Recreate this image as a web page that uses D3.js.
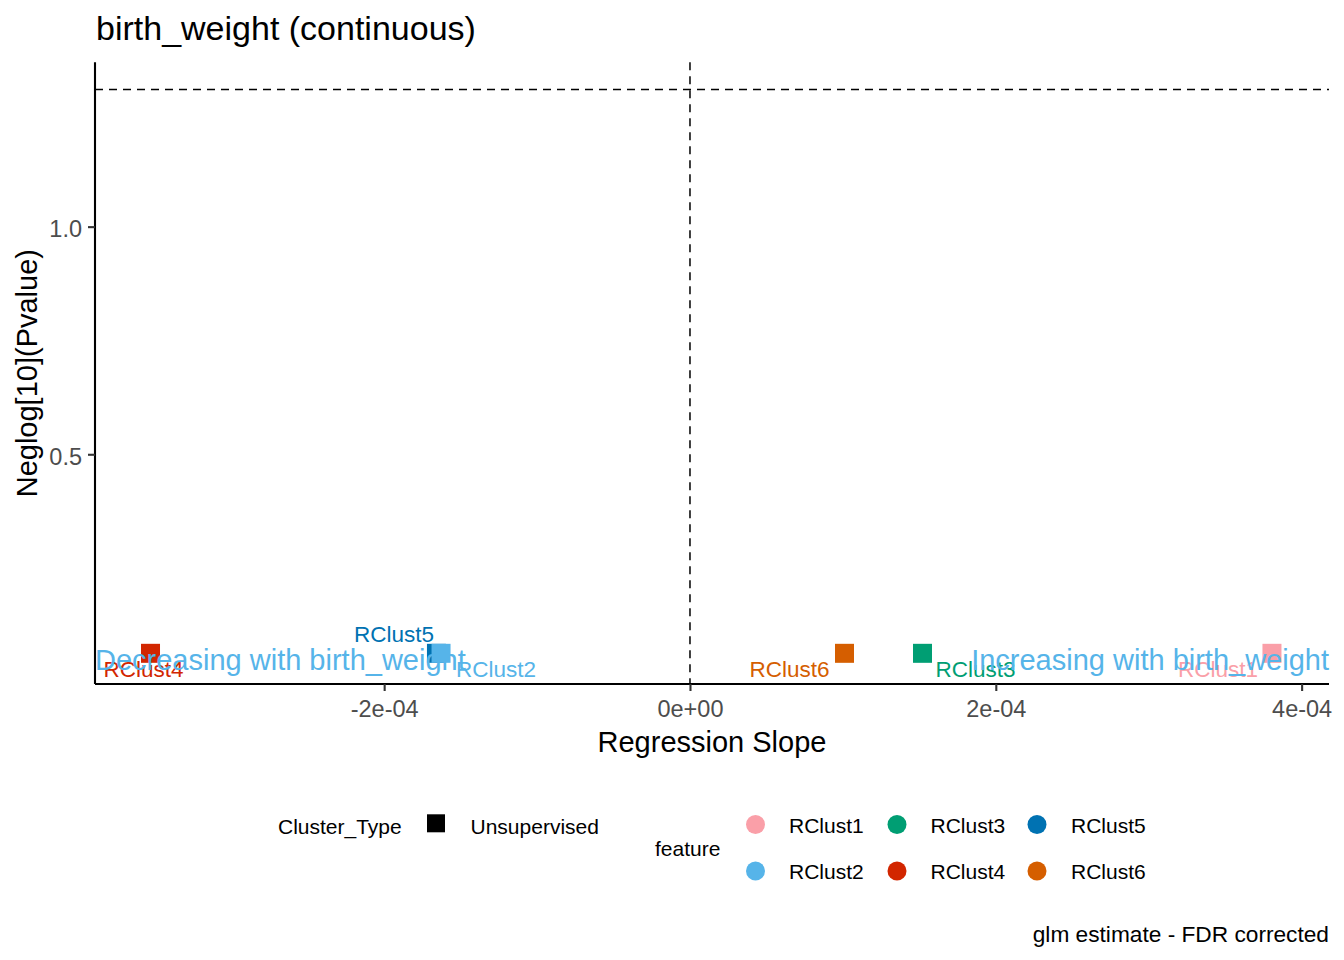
<!DOCTYPE html>
<html>
<head>
<meta charset="utf-8">
<script src="https://cdn.jsdelivr.net/npm/d3@7"></script>
<style>
  html, body { margin: 0; padding: 0; background: #fff; }
  svg text { font-family: "Liberation Sans", Arial, sans-serif; }
</style>
</head>
<body>
<svg id="chart" width="1344" height="960"></svg>
<script>
// ---- data ----
const features   = ["RClust5", "RClust4", "RClust6", "RClust3", "RClust1", "RClust2"];
const slopes     = [-1.658e-4, -3.528e-4, 1.0105e-4, 1.5206e-4, 3.806e-4, -1.628e-4];
const neglogP    = [0.0628, 0.0628, 0.0628, 0.0628, 0.0628, 0.0628];
const clusterType = ["Unsupervised", "Unsupervised", "Unsupervised", "Unsupervised", "Unsupervised", "Unsupervised"];
const xTicks     = [-2e-4, 0, 2e-4, 4e-4];
const xTickLabels = ["-2e-04", "0e+00", "2e-04", "4e-04"];
const yTicks     = [0.5, 1.0];
const yTickLabels = ["0.5", "1.0"];
const sigLine    = 1.301;   // -log10(0.05)
const annotY     = 0.049;
const legendFeatures = ["RClust1", "RClust2", "RClust3", "RClust4", "RClust5", "RClust6"];

// ---- styles ----
const colors = {
  RClust1: "#FA9FA8", RClust2: "#56B4E9", RClust3: "#009E73",
  RClust4: "#D22600", RClust5: "#0072B2", RClust6: "#D55E00"
};
// label offsets (px) mimicking ggrepel placement
const labelOffset = {
  RClust1: [-54, 15.5], RClust2: [55, 15.5], RClust3: [53, 15.5],
  RClust4: [-7, 15.5], RClust5: [-42.5, -19.2], RClust6: [-55, 15.5]
};

const svg = d3.select("#chart");
const panel = { left: 95, right: 1329, top: 62.3, bottom: 684 };

const x = d3.scaleLinear().domain([-3.891e-4, 4.179e-4]).range([panel.left, panel.right]);
const y = d3.scaleLinear().domain([-0.0046, 1.361]).range([panel.bottom, panel.top]);

const data = features.map((f, i) => ({ f, x: slopes[i], y: neglogP[i], t: clusterType[i] }));

// reference lines
svg.append("line")
  .attr("x1", panel.left).attr("x2", panel.right)
  .attr("y1", y(sigLine)).attr("y2", y(sigLine))
  .attr("stroke", "#000").attr("stroke-width", 1.5).attr("stroke-dasharray", "8,6");
svg.append("line")
  .attr("x1", x(0)).attr("x2", x(0))
  .attr("y1", panel.top).attr("y2", panel.bottom)
  .attr("stroke", "#000").attr("stroke-width", 1.5).attr("stroke-dasharray", "8,6");

// points (squares)
const sq = 19;
svg.append("g").selectAll("rect").data(data).join("rect")
  .attr("x", d => x(d.x) - sq / 2)
  .attr("y", d => y(d.y) - sq / 2)
  .attr("width", sq).attr("height", sq)
  .attr("fill", d => colors[d.f]);

// repel labels
svg.append("g").selectAll("text").data(data).join("text")
  .attr("x", d => x(d.x) + labelOffset[d.f][0])
  .attr("y", d => y(d.y) + labelOffset[d.f][1])
  .attr("dy", "0.35em")
  .attr("text-anchor", "middle")
  .attr("font-size", 22.5)
  .attr("fill", d => colors[d.f])
  .text(d => d.f);

// annotations
svg.append("text")
  .attr("x", panel.left).attr("y", y(annotY)).attr("dy", "0.35em")
  .attr("text-anchor", "start").attr("font-size", 29)
  .attr("fill", "#56B4E9")
  .text("Decreasing with birth_weight");
svg.append("text")
  .attr("x", panel.right).attr("y", y(annotY)).attr("dy", "0.35em")
  .attr("text-anchor", "end").attr("font-size", 29)
  .attr("fill", "#56B4E9")
  .text("Increasing with birth_weight");

// axes
const xAxis = d3.axisBottom(x).tickValues(xTicks).tickFormat((d, i) => xTickLabels[i]).tickSize(7).tickPadding(9);
const gx = svg.append("g").attr("transform", `translate(0,${panel.bottom})`).call(xAxis);
gx.select(".domain").attr("d", `M${panel.left},0H${panel.right}`).attr("stroke", "#000").attr("stroke-width", 2.1);
gx.selectAll(".tick line").attr("stroke", "#333").attr("stroke-width", 2.1);
gx.selectAll(".tick text").attr("font-size", 23.5).attr("fill", "#4D4D4D")
  .attr("font-family", "Liberation Sans, Arial, sans-serif");

const yAxis = d3.axisLeft(y).tickValues(yTicks).tickFormat((d, i) => yTickLabels[i]).tickSize(7).tickPadding(6);
const gy = svg.append("g").attr("transform", `translate(${panel.left},0)`).call(yAxis);
gy.select(".domain").attr("d", `M0,${panel.top}V${panel.bottom}`).attr("stroke", "#000").attr("stroke-width", 2.1);
gy.selectAll(".tick line").attr("stroke", "#333").attr("stroke-width", 2.1);
gy.selectAll(".tick text").attr("font-size", 23.5).attr("fill", "#4D4D4D")
  .attr("font-family", "Liberation Sans, Arial, sans-serif").attr("dy", "0.42em");

// titles
svg.append("text").attr("x", 96).attr("y", 40).attr("font-size", 34).attr("fill", "#000")
  .text("birth_weight (continuous)");
svg.append("text").attr("x", (panel.left + panel.right) / 2).attr("y", 752)
  .attr("text-anchor", "middle").attr("font-size", 29).attr("fill", "#000")
  .text("Regression Slope");
svg.append("text").attr("transform", `translate(37,${(panel.top + panel.bottom) / 2}) rotate(-90)`)
  .attr("text-anchor", "middle").attr("font-size", 29).attr("fill", "#000")
  .text("Neglog[10](Pvalue)");
svg.append("text").attr("x", panel.right).attr("y", 942)
  .attr("text-anchor", "end").attr("font-size", 22.7).attr("fill", "#000")
  .text("glm estimate - FDR corrected");

// legend: Cluster_Type
const lg = svg.append("g");
lg.append("text").attr("x", 278).attr("y", 834).attr("font-size", 21).text("Cluster_Type");
lg.append("rect").attr("x", 427).attr("y", 814.3).attr("width", 18).attr("height", 18).attr("fill", "#000");
lg.append("text").attr("x", 470.5).attr("y", 834).attr("font-size", 21).text(Array.from(new Set(clusterType))[0]);

// legend: feature
lg.append("text").attr("x", 655).attr("y", 856).attr("font-size", 21).text("feature");
const colX = [755.5, 897, 1037];
const rowY = [824.5, 871];
const labX = [789, 930.5, 1071];
legendFeatures.forEach((f, i) => {
  const c = Math.floor(i / 2), r = i % 2;
  lg.append("circle").attr("cx", colX[c]).attr("cy", rowY[r]).attr("r", 9.5).attr("fill", colors[f]);
  lg.append("text").attr("x", labX[c]).attr("y", rowY[r] + 8).attr("font-size", 21).text(f);
});
</script>
</body>
</html>
